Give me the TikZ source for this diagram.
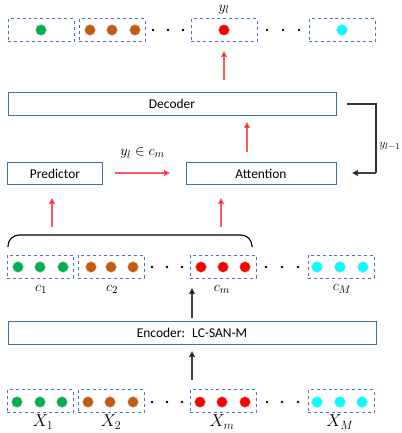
\documentclass[tikz,border=0pt]{standalone}
\usepackage{fontspec}
\setmainfont{Carlito}
\usetikzlibrary{arrows.meta}
\definecolor{boxblue}{RGB}{65,113,156}
\definecolor{dashblue}{RGB}{68,114,196}
\definecolor{cgreen}{RGB}{0,176,80}
\definecolor{cbrown}{RGB}{197,90,17}
\definecolor{cred}{RGB}{255,0,0}
\definecolor{ccyan}{RGB}{0,255,255}
\definecolor{arrred}{RGB}{255,90,90}

\begin{document}
\begin{tikzpicture}[x=1bp,y=-1bp,
	block/.style={draw=boxblue,line width=0.9bp,minimum height=23bp,inner sep=0pt,font=\fontsize{13.5}{15}\selectfont},
	group/.style={draw=dashblue,dashed,line width=0.8bp,minimum width=66bp,minimum height=23bp,inner sep=0pt},
	ball/.style={circle,fill=#1,draw=gray!30,line width=0.4bp,minimum size=11bp,inner sep=0pt},
	gap/.style={circle,fill=black,minimum size=2.6bp,inner sep=0pt},
	redarrow/.style={draw=arrred,line width=1.1bp,-{Triangle[width=6bp,length=6bp,fill=red]}},
	blackarrow/.style={draw=black!75,line width=1.1bp,-{Triangle[width=6bp,length=6bp,fill=black]}},
	lab/.style={inner sep=0pt,font=\fontsize{15}{17}\selectfont},
	xlab/.style={inner sep=0pt,font=\fontsize{17.5}{19}\selectfont}]
	\useasboundingbox (0,0) rectangle (401,433);

	% output row
	\node [group] (o1) at (41,30) {};
	\node [group] (o2) at (112,30) {};
	\node [group] (o3) at (224,30) {};
	\node [group] (o4) at (342,30) {};
	\node [ball=cgreen] (og) at (41,30) {};
	\foreach \x [count=\i] in {90,112,135}
		\node [ball=cbrown] (ob\i) at (\x,30) {};
	\node [ball=cred] (or) at (224,30) {};
	\node [ball=ccyan] (oc) at (342,30) {};
	\foreach \x [count=\i] in {153,168,183,267,283,299}
		\node [gap] (od\i) at (\x,30) {};
	\node [lab] (yl) at (224,9.5) {$y_l$};

	% blocks
	\node [block,minimum width=328bp] (dec) at (172,104) {Decoder};
	\node [block,minimum width=95bp,minimum height=22bp] (pred) at (55,173.5) {Predictor};
	\node [block,minimum width=150bp,minimum height=22bp] (att) at (261,173.5) {Attention};
	\node [block,minimum width=368bp] (enc) at (192,332.5) {Encoder:~ LC-SAN-M};

	% encoder output row
	\node [group] (c1) at (40.5,266.5) {};
	\node [group] (c2) at (111,266.5) {};
	\node [group] (cm) at (223,266.5) {};
	\node [group] (cM) at (341,266.5) {};
	\foreach \x [count=\i] in {18,40,63}
		\node [ball=cgreen] (cg\i) at (\x,267) {};
	\foreach \x [count=\i] in {91,111,133}
		\node [ball=cbrown] (cb\i) at (\x,267) {};
	\foreach \x [count=\i] in {201,223,245}
		\node [ball=cred] (cr\i) at (\x,267) {};
	\foreach \x [count=\i] in {317,340,363}
		\node [ball=ccyan] (cc\i) at (\x,267) {};
	\foreach \x [count=\i] in {152,167,182,266,282,298}
		\node [gap] (cd\i) at (\x,267) {};
	\node [lab] (lc1) at (41,289) {$c_1$};
	\node [lab] (lc2) at (112,289) {$c_2$};
	\node [lab] (lcm) at (222,289) {$c_m$};
	\node [lab] (lcM) at (342,289) {$c_M$};

	% input row
	\node [group] (x1) at (40,401) {};
	\node [group] (x2) at (111,401) {};
	\node [group] (xm) at (223,401) {};
	\node [group] (xM) at (341,401) {};
	\foreach \x [count=\i] in {17,40,62}
		\node [ball=cgreen] (xg\i) at (\x,402) {};
	\foreach \x [count=\i] in {88,110,133}
		\node [ball=cbrown] (xb\i) at (\x,402) {};
	\foreach \x [count=\i] in {200,222,245}
		\node [ball=cred] (xr\i) at (\x,402) {};
	\foreach \x [count=\i] in {317,340,362}
		\node [ball=ccyan] (xc\i) at (\x,402) {};
	\foreach \x [count=\i] in {152,167,182,267,282,298}
		\node [gap] (xd\i) at (\x,402) {};
	\node [xlab] (lx1) at (43,422) {$X_1$};
	\node [xlab] (lx2) at (111,422) {$X_2$};
	\node [xlab] (lxm) at (222,422) {$X_m$};
	\node [xlab] (lxM) at (340,422) {$X_M$};

	% arrow ends
	\coordinate (a1) at (224,80);
	\coordinate (a1e) at (224,51);
	\coordinate (a2) at (247,152);
	\coordinate (a2e) at (247,122);
	\coordinate (a3) at (115,173);
	\coordinate (a3e) at (170,173);
	\coordinate (a4) at (52,227);
	\coordinate (a4e) at (52,198);
	\coordinate (a5) at (221,227);
	\coordinate (a5e) at (221,198);
	\coordinate (a6) at (192,318);
	\coordinate (a6e) at (192,288);
	\coordinate (a7) at (192,380);
	\coordinate (a7e) at (192,351);
	\coordinate (fb) at (347,104);
	\coordinate (fbc) at (376,173);
	\coordinate (fbe) at (352,173);

	\draw[redarrow] (a1) -- (a1e);
	\draw[redarrow] (a2) -- (a2e);
	\draw[redarrow] (a3) -- (a3e) node [lab,midway,above=14bp] {$y_l\in c_m$};
	\draw[redarrow] (a4) -- (a4e);
	\draw[redarrow] (a5) -- (a5e);
	\draw[blackarrow] (a6) -- (a6e);
	\draw[blackarrow] (a7) -- (a7e);
	\draw[line width=1.1bp,black!80] (fb) -| (fbc);
	\draw[blackarrow] (fbc) -- (fbe);
	\node [lab,anchor=east,font=\fontsize{13}{15}\selectfont] (ylm) at (400.5,146) {$y_{l-1}$};

	% brace over c_1 ... c_m
	\draw[line width=1.1bp,rounded corners=11bp] (8,247) -- (8,235) -- (252,235) -- (252,247);
\end{tikzpicture}
\end{document}
